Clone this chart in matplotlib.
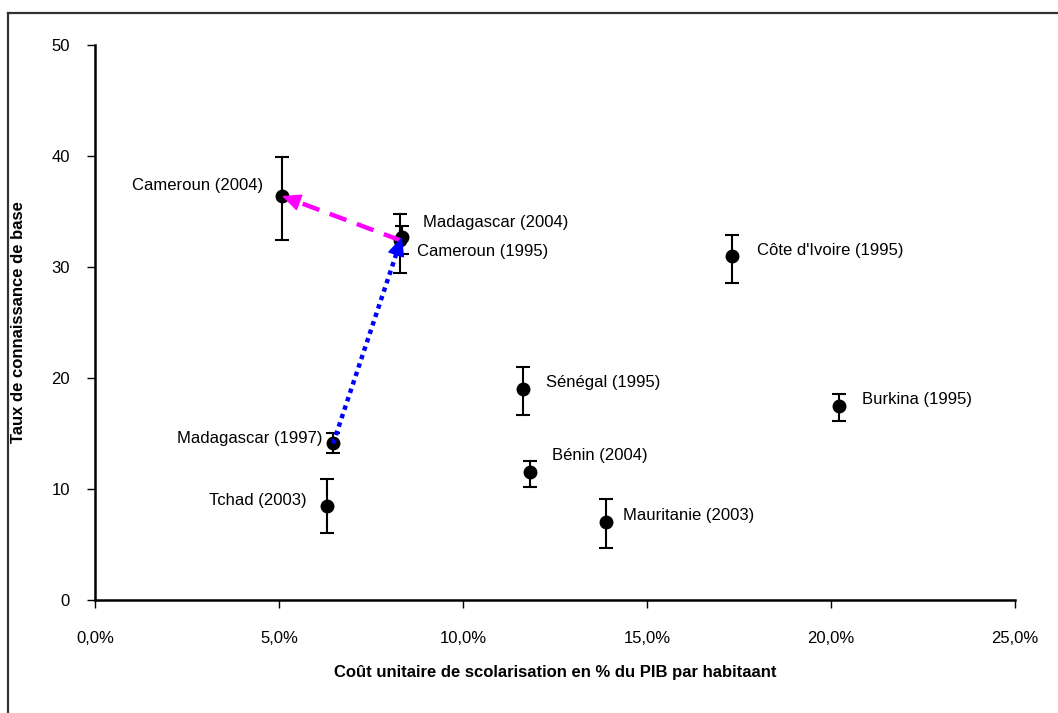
import matplotlib
matplotlib.use("Agg")
import matplotlib.pyplot as plt
from matplotlib.ticker import FuncFormatter, MultipleLocator
from matplotlib.lines import Line2D

plt.rcParams['font.family'] = ['Liberation Sans', 'DejaVu Sans']

# Country surveys: unit cost (share of GDP per capita) vs basic literacy rate
pays = ["Cameroun (2004)", "Madagascar (2004)", "Cameroun (1995)", "Côte d'Ivoire (1995)",
        "Sénégal (1995)", "Burkina (1995)", "Madagascar (1997)", "Bénin (2004)",
        "Tchad (2003)", "Mauritanie (2003)"]
cout = [0.0508, 0.0834, 0.0830, 0.1731, 0.1163, 0.2022, 0.0647, 0.1182, 0.0630, 0.1389]
taux = [36.4, 32.7, 32.4, 31.0, 19.0, 17.5, 14.1, 11.5, 8.5, 7.0]
err_bas = [4.0, 1.5, 2.9, 2.4, 2.3, 1.4, 0.9, 1.3, 2.5, 2.3]
err_haut = [3.5, 1.0, 2.4, 1.9, 2.0, 1.1, 0.9, 1.0, 2.4, 2.1]

# label offsets in pixels and alignment
decalage = [(-19, 10, 'right'), (21, 15, 'left'), (17, -11, 'left'), (25, 5, 'left'),
            (23, 7, 'left'), (23, 6, 'left'), (-11, 5, 'right'), (22, 17, 'left'),
            (-20, 5, 'right'), (17, 7, 'left')]

fig = plt.figure(figsize=(10.58, 7.13), dpi=100)
ax = fig.add_axes([0.0898, 0.1585, 0.8696, 0.7784])

ax.errorbar(cout, taux, yerr=[err_bas, err_haut], fmt='o', color='black',
            markersize=9, elinewidth=1.5, capsize=5, capthick=1.5, zorder=3)

for nom, x, y, (dx, dy, ha) in zip(pays, cout, taux, decalage):
    ax.annotate(nom, (x, y), xytext=(dx, dy), textcoords='offset pixels',
                ha=ha, va='center', fontsize=12)


def fleche(i_dep, i_arr, couleur, style):
    x0, y0 = cout[i_dep], taux[i_dep]
    x1, y1 = cout[i_arr], taux[i_arr]
    ax.plot([x0, x0 + 0.93 * (x1 - x0)], [y0, y0 + 0.93 * (y1 - y0)],
            color=couleur, lw=3.2, linestyle=style, zorder=4)
    ax.annotate('', xy=(x1, y1), xytext=(x0 + 0.9 * (x1 - x0), y0 + 0.9 * (y1 - y0)),
                arrowprops=dict(arrowstyle='-|>,head_length=1.2,head_width=0.55',
                                color=couleur, lw=1, shrinkA=0, shrinkB=0), zorder=5)


# Cameroun 1995 -> 2004 and Madagascar 1997 -> 2004
fleche(2, 0, '#FF00FF', (0, (4, 2.5)))
fleche(6, 1, '#0000FF', (0, (1, 1)))

ax.set_xlim(0, 0.25)
ax.set_ylim(0, 50)
ax.xaxis.set_major_locator(MultipleLocator(0.05))
ax.yaxis.set_major_locator(MultipleLocator(10))
ax.xaxis.set_major_formatter(FuncFormatter(lambda v, p: f"{v * 100:.1f}%".replace('.', ',')))

for s in ['top', 'right']:
    ax.spines[s].set_visible(False)
for s in ['left', 'bottom']:
    ax.spines[s].set_linewidth(1.8)
ax.tick_params(axis='y', direction='out', length=6, width=1, labelsize=12, pad=12)
ax.tick_params(axis='x', direction='out', length=6, width=1, labelsize=12, pad=16)

ax.set_xlabel("Coût unitaire de scolarisation en % du PIB par habitaant",
              fontsize=12, fontweight='bold', labelpad=14)
ax.set_ylabel("Taux de connaissance de base", fontsize=12, fontweight='bold', labelpad=18)

# outer frame around the chart
fig.add_artist(Line2D([0.0076, 1.0], [0.982, 0.982], color='#333333', lw=1.6))
fig.add_artist(Line2D([0.0076, 0.0076], [0.982, 0.0], color='#333333', lw=1.6))

fig.savefig("out.png", dpi=100)
